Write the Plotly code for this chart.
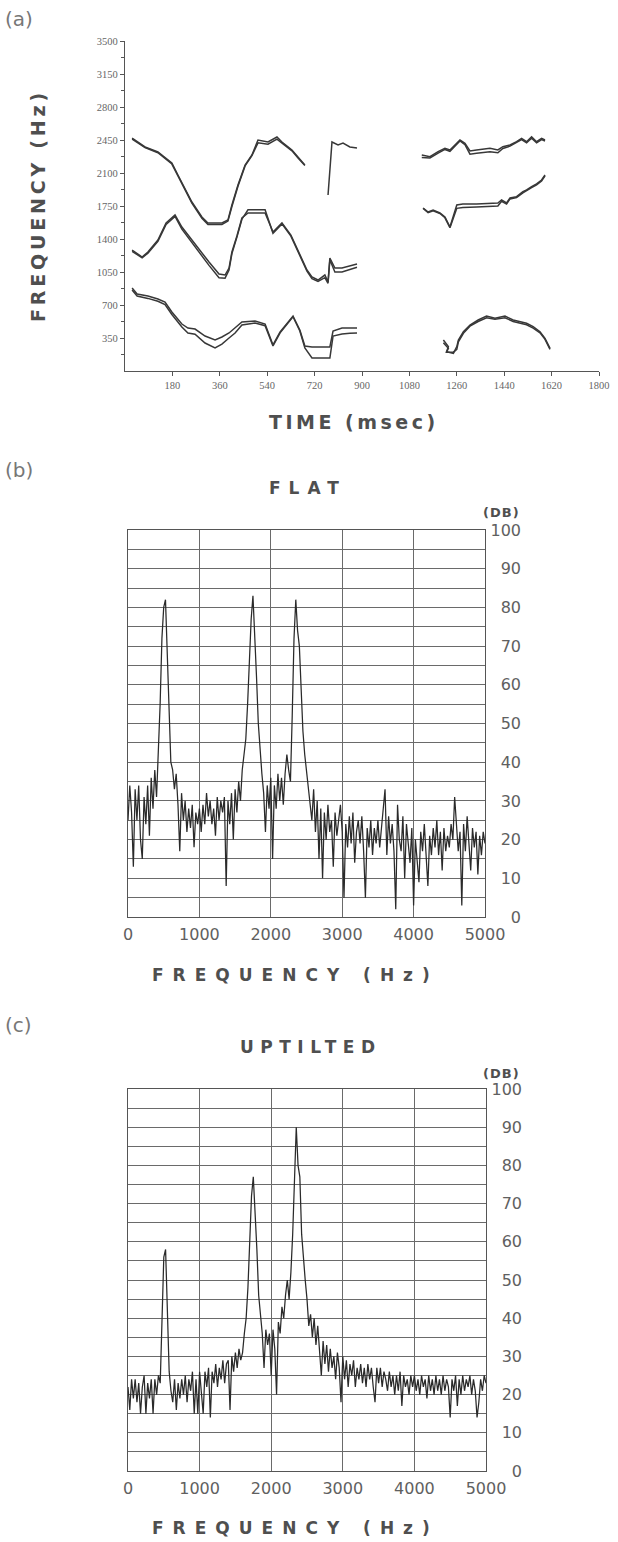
import plotly.graph_objects as go

# ---------------- Panel (a): formant tracks ----------------
f3a_t = [27, 76, 125, 178, 201, 228, 254, 292, 315, 368, 391, 406, 429, 456, 482, 505, 543, 577, 596, 634, 657, 683]
f3a_1 = [2471, 2376, 2323, 2206, 2079, 1941, 1792, 1633, 1570, 1570, 1601, 1761, 1973, 2185, 2291, 2450, 2429, 2482, 2429, 2344, 2270, 2185]
f3a_2 = [2460, 2370, 2315, 2195, 2070, 1930, 1780, 1620, 1555, 1555, 1590, 1745, 1960, 2175, 2285, 2420, 2405, 2460, 2420, 2335, 2260, 2180]

f3b_t = [771, 786, 809, 828, 854, 881]
f3b_1 = [1867, 2429, 2397, 2418, 2376, 2365]

f3c_t = [1127, 1158, 1189, 1215, 1234, 1272, 1291, 1310, 1335, 1386, 1416, 1435, 1462, 1487, 1506, 1525, 1544, 1563, 1582, 1595]
f3c_1 = [2291, 2273, 2326, 2362, 2344, 2450, 2415, 2333, 2344, 2362, 2344, 2379, 2397, 2432, 2468, 2432, 2485, 2432, 2468, 2450]
f3c_2 = [2265, 2260, 2310, 2350, 2330, 2440, 2400, 2300, 2310, 2325, 2315, 2360, 2385, 2420, 2455, 2420, 2470, 2420, 2455, 2440]

f2a_t = [27, 65, 87, 125, 156, 190, 216, 273, 319, 357, 380, 395, 406, 425, 444, 467, 532, 562, 596, 630, 661, 691, 710, 733, 759, 771, 778, 797, 824, 854, 881]
f2a_1 = [1283, 1209, 1262, 1389, 1570, 1655, 1527, 1315, 1156, 1029, 1018, 1092, 1262, 1432, 1623, 1676, 1676, 1474, 1570, 1442, 1252, 1071, 997, 965, 1018, 944, 1198, 1092, 1092, 1114, 1135]
f2a_2 = [1270, 1200, 1250, 1375, 1555, 1640, 1505, 1285, 1120, 990, 985, 1070, 1245, 1420, 1610, 1710, 1710, 1460, 1560, 1430, 1240, 1060, 980, 950, 990, 930, 1180, 1050, 1050, 1080, 1100]

f2b_t = [1132, 1151, 1170, 1196, 1215, 1234, 1260, 1283, 1335, 1416, 1430, 1449, 1462, 1487, 1511, 1525, 1544, 1563, 1582, 1595]
f2b_1 = [1729, 1686, 1708, 1676, 1633, 1527, 1761, 1771, 1771, 1782, 1814, 1782, 1835, 1849, 1902, 1920, 1955, 1984, 2026, 2079]
f2b_2 = [1725, 1680, 1700, 1670, 1625, 1520, 1725, 1735, 1740, 1750, 1800, 1770, 1825, 1840, 1890, 1910, 1945, 1975, 2015, 2070]

f1a_t = [27, 46, 87, 125, 152, 178, 216, 239, 266, 304, 342, 368, 395, 418, 444, 494, 532, 562, 589, 638, 664, 683, 710, 778, 790, 824, 854, 881]
f1a_1 = [880, 817, 795, 764, 732, 626, 498, 456, 445, 371, 329, 361, 403, 456, 520, 530, 498, 276, 414, 583, 435, 265, 255, 255, 424, 456, 456, 456]
f1a_2 = [860, 795, 770, 740, 705, 600, 467, 403, 390, 297, 244, 286, 350, 403, 488, 509, 480, 265, 405, 575, 425, 244, 138, 138, 371, 392, 400, 403]

f1b_t = [1209, 1228, 1221, 1247, 1260, 1266, 1285, 1310, 1341, 1373, 1405, 1443, 1474, 1525, 1550, 1576, 1595, 1614]
f1b_1 = [329, 258, 205, 187, 258, 329, 417, 488, 541, 583, 559, 583, 541, 506, 470, 417, 346, 240]
f1b_2 = [300, 240, 200, 200, 230, 310, 400, 475, 525, 565, 550, 565, 525, 490, 455, 405, 335, 230]

time_ticks = [180, 360, 540, 720, 900, 1080, 1260, 1440, 1620, 1800]
freq_ticks_a = [350, 700, 1050, 1400, 1750, 2100, 2450, 2800, 3150, 3500]
freq_minor_a = [175, 525, 875, 1225, 1575, 1925, 2275, 2625, 2975, 3325]

# ---------------- Panels (b), (c): spectra, 25 Hz bins ----------------
bin_hz = 25
flat_db = (
    [25, 34, 27, 13, 33, 25, 34, 20, 15, 31, 24, 34, 21, 36, 28, 38, 31, 41, 55, 72]
    + [80, 82, 68, 50, 40, 38, 33, 37, 29, 17, 32, 25, 30, 22, 28, 23, 29, 18, 27, 24]
    + [28, 22, 29, 24, 32, 26, 30, 24, 28, 21, 31, 25, 30, 27, 31, 8, 30, 24, 32, 20]
    + [33, 27, 35, 30, 38, 42, 46, 55, 66, 77, 83, 74, 62, 50, 42, 37, 32, 22, 34, 28]
    + [36, 15, 34, 28, 37, 30, 36, 29, 37, 42, 38, 35, 52, 72, 82, 74, 70, 58, 48, 42]
    + [38, 33, 30, 25, 33, 22, 30, 15, 28, 10, 27, 20, 29, 22, 25, 13, 27, 21, 25, 29]
    + [22, 5, 24, 18, 26, 19, 27, 14, 22, 25, 19, 26, 17, 5, 23, 18, 25, 16, 23, 19]
    + [25, 18, 23, 28, 33, 16, 26, 19, 24, 17, 2, 29, 20, 17, 26, 10, 24, 19, 14, 23]
    + [3, 20, 15, 9, 22, 17, 24, 15, 8, 21, 16, 23, 18, 25, 16, 22, 12, 23, 17, 21]
    + [18, 24, 20, 31, 25, 17, 22, 3, 24, 17, 26, 19, 12, 23, 18, 22, 11, 21, 16, 22, 19]
)
uptilt_db = (
    [22, 16, 24, 19, 24, 18, 23, 15, 22, 25, 15, 23, 19, 24, 15, 24, 20, 25, 23, 40]
    + [56, 58, 42, 26, 21, 18, 24, 16, 23, 19, 24, 20, 25, 18, 24, 21, 26, 15, 24, 15]
    + [26, 21, 15, 26, 22, 27, 14, 26, 23, 28, 22, 27, 24, 29, 23, 28, 29, 16, 30, 26]
    + [31, 27, 32, 29, 31, 36, 40, 48, 62, 72, 77, 69, 58, 46, 40, 36, 27, 37, 33, 36]
    + [25, 37, 32, 20, 39, 36, 43, 40, 46, 50, 45, 52, 62, 78, 90, 80, 77, 62, 55, 50]
    + [45, 38, 41, 35, 40, 33, 38, 30, 25, 34, 28, 33, 26, 32, 27, 30, 24, 31, 27, 18]
    + [30, 24, 29, 22, 28, 25, 29, 22, 27, 24, 28, 23, 27, 22, 28, 24, 27, 22, 18, 27]
    + [23, 27, 22, 26, 24, 21, 26, 22, 25, 20, 25, 21, 26, 17, 25, 22, 24, 20, 25, 22]
    + [25, 21, 24, 20, 25, 22, 24, 19, 25, 21, 24, 20, 25, 21, 24, 20, 25, 21, 24, 22]
    + [14, 24, 21, 25, 17, 24, 20, 25, 21, 24, 22, 25, 20, 24, 21, 14, 18, 24, 21, 25, 23]
)
spec_freq = [i * bin_hz for i in range(len(flat_db))]
spec_freq_c = [i * bin_hz for i in range(len(uptilt_db))]
spec_xticks = [0, 1000, 2000, 3000, 4000, 5000]
db_ticks = [0, 10, 20, 30, 40, 50, 60, 70, 80, 90, 100]

W, H = 618, 1542
INK = "#383838"
GRID = "#6a6a6a"
TXT = "#4f4f4f"
SANS = "DejaVu Sans"


def sp(text, px):
    return f'<span style="letter-spacing:{px}px">{text}</span>'


fig = go.Figure()

track_pairs = [
    (f3a_t, f3a_1), (f3a_t, f3a_2), (f3b_t, f3b_1),
    (f3c_t, f3c_1), (f3c_t, f3c_2),
    (f2a_t, f2a_1), (f2a_t, f2a_2), (f2b_t, f2b_1), (f2b_t, f2b_2),
    (f1a_t, f1a_1), (f1a_t, f1a_2), (f1b_t, f1b_1), (f1b_t, f1b_2),
]
for t, f in track_pairs:
    fig.add_trace(go.Scatter(x=t, y=f, mode="lines", line=dict(color=INK, width=1.5),
                             xaxis="x", yaxis="y", showlegend=False, hoverinfo="skip"))

fig.add_trace(go.Scatter(x=spec_freq, y=flat_db, mode="lines", line=dict(color="#2a2a2a", width=1.25),
                         xaxis="x2", yaxis="y2", showlegend=False))
fig.add_trace(go.Scatter(x=spec_freq_c, y=uptilt_db, mode="lines", line=dict(color="#2a2a2a", width=1.25),
                         xaxis="x3", yaxis="y3", showlegend=False))
# invisible carriers for the right-hand dB label axes
fig.add_trace(go.Scatter(x=[None], y=[None], xaxis="x2", yaxis="y4", showlegend=False))
fig.add_trace(go.Scatter(x=[None], y=[None], xaxis="x3", yaxis="y5", showlegend=False))


def px_x(p):
    return p / W


def px_y(p):
    return 1 - p / H


serif_tick = dict(family="Liberation Serif", size=10.5, color="#666")
spec_tick = dict(family=SANS, size=16, color="#606060")

box = dict(showline=True, mirror=True, linecolor="#555", linewidth=1.2, zeroline=False,
           showgrid=True, gridcolor=GRID, gridwidth=1, automargin=False)

fig.update_layout(
    width=W, height=H, margin=dict(l=0, r=0, t=0, b=0, autoexpand=False),
    paper_bgcolor="white", plot_bgcolor="white", showlegend=False,
    xaxis=dict(domain=[px_x(125), px_x(599)], anchor="y", range=[0, 1800],
               tickvals=time_ticks, ticktext=[str(v) for v in time_ticks],
               ticks="outside", ticklen=4, tickcolor="#555", showline=True, linecolor="#555",
               linewidth=1.2, showgrid=False, zeroline=False, tickfont=serif_tick, automargin=False),
    yaxis=dict(domain=[px_y(371), px_y(41)], anchor="x", range=[0, 3500],
               tickvals=freq_ticks_a, ticktext=[str(v) for v in freq_ticks_a],
               ticks="outside", ticklen=4, tickcolor="#555", showline=True, linecolor="#555",
               linewidth=1.2, showgrid=False, zeroline=False, tickfont=serif_tick, automargin=False,
               minor=dict(tickvals=freq_minor_a, ticks="outside", ticklen=3, tickcolor="#555")),
    xaxis2=dict(domain=[px_x(128), px_x(485)], anchor="y2", range=[0, 5000],
                tickvals=spec_xticks, ticktext=[str(v) for v in spec_xticks],
                ticks="", tickfont=spec_tick, ticklabelstandoff=3, **box),
    yaxis2=dict(domain=[px_y(917), px_y(530)], anchor="x2", range=[0, 100], dtick=5,
                showticklabels=False, ticks="", **box),
    yaxis4=dict(overlaying="y2", anchor="free", position=px_x(521), side="left",
                range=[0, 100], tickvals=db_ticks, ticktext=[str(v) for v in db_ticks],
                showgrid=False, showline=False, zeroline=False, ticks="", tickfont=spec_tick,
                automargin=False),
    xaxis3=dict(domain=[px_x(128), px_x(486)], anchor="y3", range=[0, 5000],
                tickvals=spec_xticks, ticktext=[str(v) for v in spec_xticks],
                ticks="", tickfont=spec_tick, ticklabelstandoff=3, **box),
    yaxis3=dict(domain=[px_y(1471), px_y(1089)], anchor="x3", range=[0, 100], dtick=5,
                showticklabels=False, ticks="", **box),
    yaxis5=dict(overlaying="y3", anchor="free", position=px_x(522), side="left",
                range=[0, 100], tickvals=db_ticks, ticktext=[str(v) for v in db_ticks],
                showgrid=False, showline=False, zeroline=False, ticks="", tickfont=spec_tick,
                automargin=False),
)


def note(text, x, y, size, spacing=0, angle=0, xanchor="center", color=TXT, weight="normal"):
    fig.add_annotation(text=sp(text, spacing) if spacing else text, x=px_x(x), y=px_y(y),
                       xref="paper", yref="paper", showarrow=False, xanchor=xanchor,
                       yanchor="middle", textangle=angle,
                       font=dict(family=SANS, size=size, color=color, weight=weight))


note("(a)", 3, 19, 20, xanchor="left", color="#777")
note("(b)", 3, 470, 20, xanchor="left", color="#777")
note("(c)", 3, 1025, 20, xanchor="left", color="#777")
note("FREQUENCY (Hz)", 38, 206, 19, spacing=3.8, angle=-90, weight="bold")
note("TIME (msec)", 354, 422, 19, spacing=3.5, weight="bold")
note("FLAT", 308, 488, 17, spacing=8, weight="bold")
note("(DB)", 501, 513, 13, spacing=1, weight="bold")
note("FREQUENCY (Hz)", 295, 975, 17, spacing=9, weight="bold")
note("UPTILTED", 311, 1047, 17, spacing=6.5, weight="bold")
note("(DB)", 501, 1073, 13, spacing=1, weight="bold")
note("FREQUENCY (Hz)", 295, 1528, 17, spacing=9, weight="bold")

page_fix = ("document.documentElement.style.margin='0';document.body.style.margin='0';"
            "document.documentElement.style.overflow='hidden';document.body.style.overflow='hidden';")
fig.write_html("out.html", config={"responsive": False}, post_script=page_fix)
